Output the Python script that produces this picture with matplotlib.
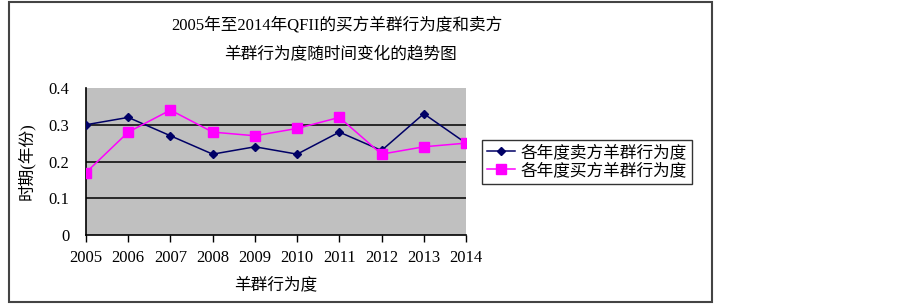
import matplotlib
matplotlib.use("Agg")
import matplotlib.pyplot as plt
from matplotlib.patches import Rectangle

plt.rcParams['font.family'] = ['Liberation Serif', 'Noto Sans CJK SC']

years = ['2005', '2006', '2007', '2008', '2009', '2010', '2011', '2012', '2013', '2014']
sell_herding = [0.30, 0.32, 0.27, 0.22, 0.24, 0.22, 0.28, 0.23, 0.33, 0.25]
buy_herding = [0.17, 0.28, 0.34, 0.28, 0.27, 0.29, 0.32, 0.22, 0.24, 0.25]
yticks = [0, 0.1, 0.2, 0.3, 0.4]
ytick_labels = ['0', '0.1', '0.2', '0.3', '0.4']

fig = plt.figure(figsize=(9.03, 3.04), dpi=100)
ax = fig.add_axes([86 / 903, 1 - 235 / 304, (466 - 86) / 903, (235 - 88) / 304])
ax.set_facecolor('#c0c0c0')

x = list(range(len(years)))
ax.plot(x, sell_herding, color='#000066', marker='D', markersize=4.5, lw=1.1,
        label='各年度卖方羊群行为度', zorder=3)
ax.plot(x, buy_herding, color='#ff00ff', marker='s', markersize=7, lw=1.1,
        label='各年度买方羊群行为度', zorder=3)

ax.set_xlim(0, len(years) - 1)
ax.set_ylim(0, 0.4)
for yv in [0.1, 0.2, 0.3]:
    ax.axhline(yv, color='black', lw=1.1, zorder=1)

ax.set_xticks(x)
ax.set_xticklabels(years, fontsize=12)
ax.set_yticks(yticks)
ax.set_yticklabels(ytick_labels, fontsize=12)
ax.tick_params(axis='x', direction='out', length=5, width=1, pad=6)
ax.tick_params(axis='y', length=0, pad=12)
for side in ['top', 'right']:
    ax.spines[side].set_visible(False)
ax.spines['left'].set_linewidth(1.2)
ax.spines['bottom'].set_linewidth(1.2)

ax.set_xlabel('羊群行为度', fontsize=12, labelpad=8)
ax.set_ylabel('时期(年份)', fontsize=12, labelpad=10)

fig.text(337 / 903, 1 - 25 / 304, '2005年至2014年QFII的买方羊群行为度和卖方',
         ha='center', va='center', fontsize=12)
fig.text(340 / 903, 1 - 55 / 304, '羊群行为度随时间变化的趋势图',
         ha='center', va='center', fontsize=12)

leg = fig.legend(loc='center left', bbox_to_anchor=(482 / 903, 1 - 162 / 304),
                 borderaxespad=0, fontsize=12, frameon=True, fancybox=False,
                 edgecolor='black', handlelength=1.7, handletextpad=0.3,
                 borderpad=0.3, labelspacing=0.1)
leg.get_frame().set_linewidth(1.0)

fig.patches.append(Rectangle((9 / 903, 2 / 304), (712 - 9) / 903, (302 - 2) / 304,
                             transform=fig.transFigure, fill=False,
                             edgecolor='#444444', lw=1.5))

fig.savefig('out.png', dpi=100)
